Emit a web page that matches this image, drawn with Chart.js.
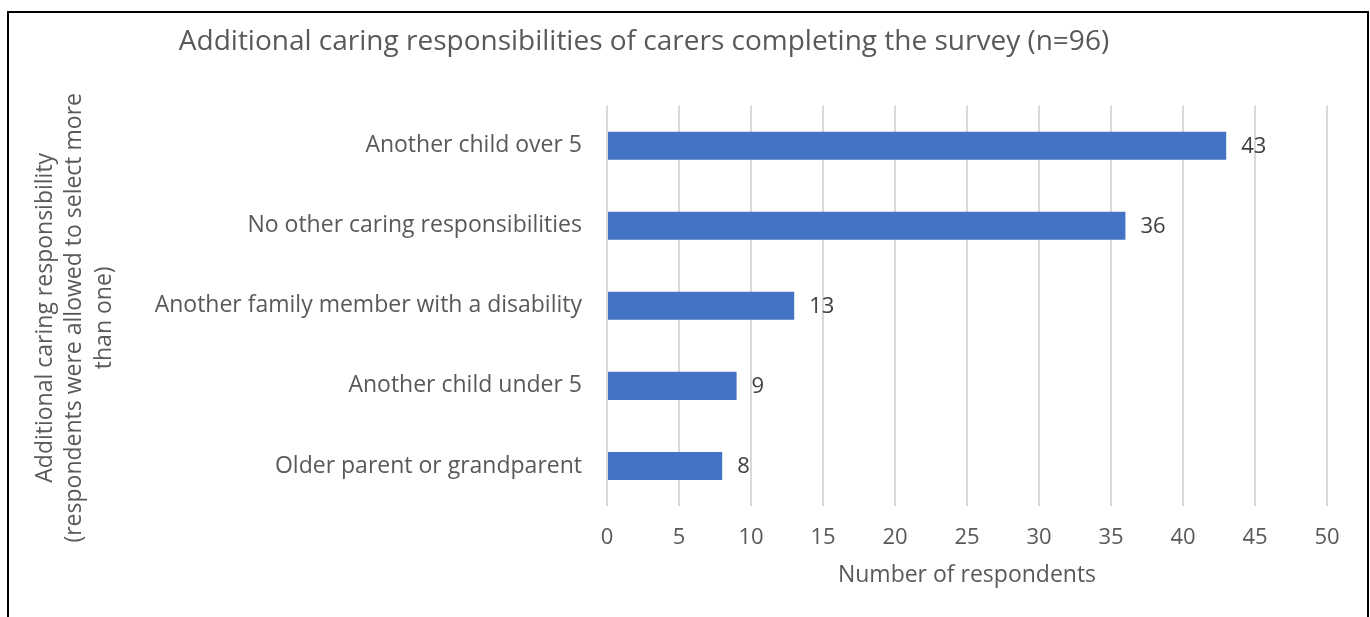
<!DOCTYPE html>
<html>
<head>
<meta charset="utf-8">
<script src="https://cdn.jsdelivr.net/npm/chart.js@4"></script>
<style>
  html, body { margin: 0; padding: 0; background: #ffffff; }
  #wrap { position: relative; width: 1370px; height: 617px; overflow: hidden; }
  #frame { position: absolute; left: 7px; top: 11px; width: 1362px; height: 700px; border: 2px solid #000; box-sizing: border-box; pointer-events: none; }
  canvas { position: absolute; left: 0; top: 0; }
</style>
</head>
<body>
<div id="wrap">
  <canvas id="c" width="1370" height="617"></canvas>
  <div id="frame"></div>
</div>
<script>
const chartTitle = 'Additional caring responsibilities of carers completing the survey (n=96)';
const categories = [
  'Another child over 5',
  'No other caring responsibilities',
  'Another family member with a disability',
  'Another child under 5',
  'Older parent or grandparent'
];
const respondents = [43, 36, 13, 9, 8];
const xAxisTitle = 'Number of respondents';
const yAxisTitle = ['Additional caring responsibility', '(respondents were allowed to select more', 'than one)'];
const xMin = 0, xMax = 50, xStep = 5;

const FONT = "'Open Sans', 'DejaVu Sans', sans-serif";
const TEXT = '#595959';

const layoutPatch = {
  id: 'layoutPatch',
  afterLayout(chart) {
    if (chart.titleBlock) {
      chart.titleBlock.left = 0;
      chart.titleBlock.right = 1288;
    }
    const y = chart.scales.y;
    if (y && !y._titlePatched) {
      const orig = y.drawTitle;
      y.drawTitle = function () {
        const t = this.top, b = this.bottom;
        this.top = t + 12; this.bottom = b + 12;
        orig.apply(this, arguments);
        this.top = t; this.bottom = b;
      };
      y._titlePatched = true;
    }
  }
};

const valueLabels = {
  id: 'valueLabels',
  afterDatasetsDraw(chart) {
    const ctx = chart.ctx;
    ctx.save();
    ctx.font = '22px ' + FONT;
    ctx.fillStyle = '#404040';
    ctx.textAlign = 'left';
    ctx.textBaseline = 'middle';
    chart.getDatasetMeta(0).data.forEach((bar, i) => {
      ctx.fillText(String(respondents[i]), bar.x + 15, bar.y + 1);
    });
    ctx.restore();
  }
};

new Chart(document.getElementById('c'), {
  type: 'bar',
  data: {
    labels: categories,
    datasets: [{
      data: respondents,
      backgroundColor: '#4472C4',
      borderWidth: 0,
      categoryPercentage: 1,
      barPercentage: 0.35
    }]
  },
  options: {
    indexAxis: 'y',
    responsive: false,
    animation: false,
    layout: { padding: { top: 14, left: 0, right: 43, bottom: 24 } },
    plugins: {
      legend: { display: false },
      tooltip: { enabled: false },
      title: {
        display: true,
        text: chartTitle,
        color: TEXT,
        font: { family: FONT, size: 28, weight: 'normal', lineHeight: 1.2 },
        padding: { top: 11, bottom: 47 }
      }
    },
    scales: {
      x: {
        min: xMin, max: xMax,
        ticks: { stepSize: xStep, color: TEXT, font: { family: FONT, size: 22 }, padding: 19 },
        grid: { color: '#d9d9d9', lineWidth: 2, drawTicks: false },
        border: { display: false },
        afterFit(scale) { scale.height = 87; },
        title: { display: true, text: xAxisTitle, color: TEXT, font: { family: FONT, size: 23 }, padding: { top: 0, bottom: 4 } }
      },
      y: {
        ticks: { color: TEXT, font: { family: FONT, size: 23 }, padding: 25 },
        grid: { display: false, drawTicks: false },
        border: { display: false },
        afterFit(scale) { scale.width = 607; },
        title: { display: true, text: yAxisTitle, color: TEXT, font: { family: FONT, size: 23, lineHeight: 1.27 }, padding: { top: 31 } }
      }
    }
  },
  plugins: [layoutPatch, valueLabels]
});
</script>
</body>
</html>
